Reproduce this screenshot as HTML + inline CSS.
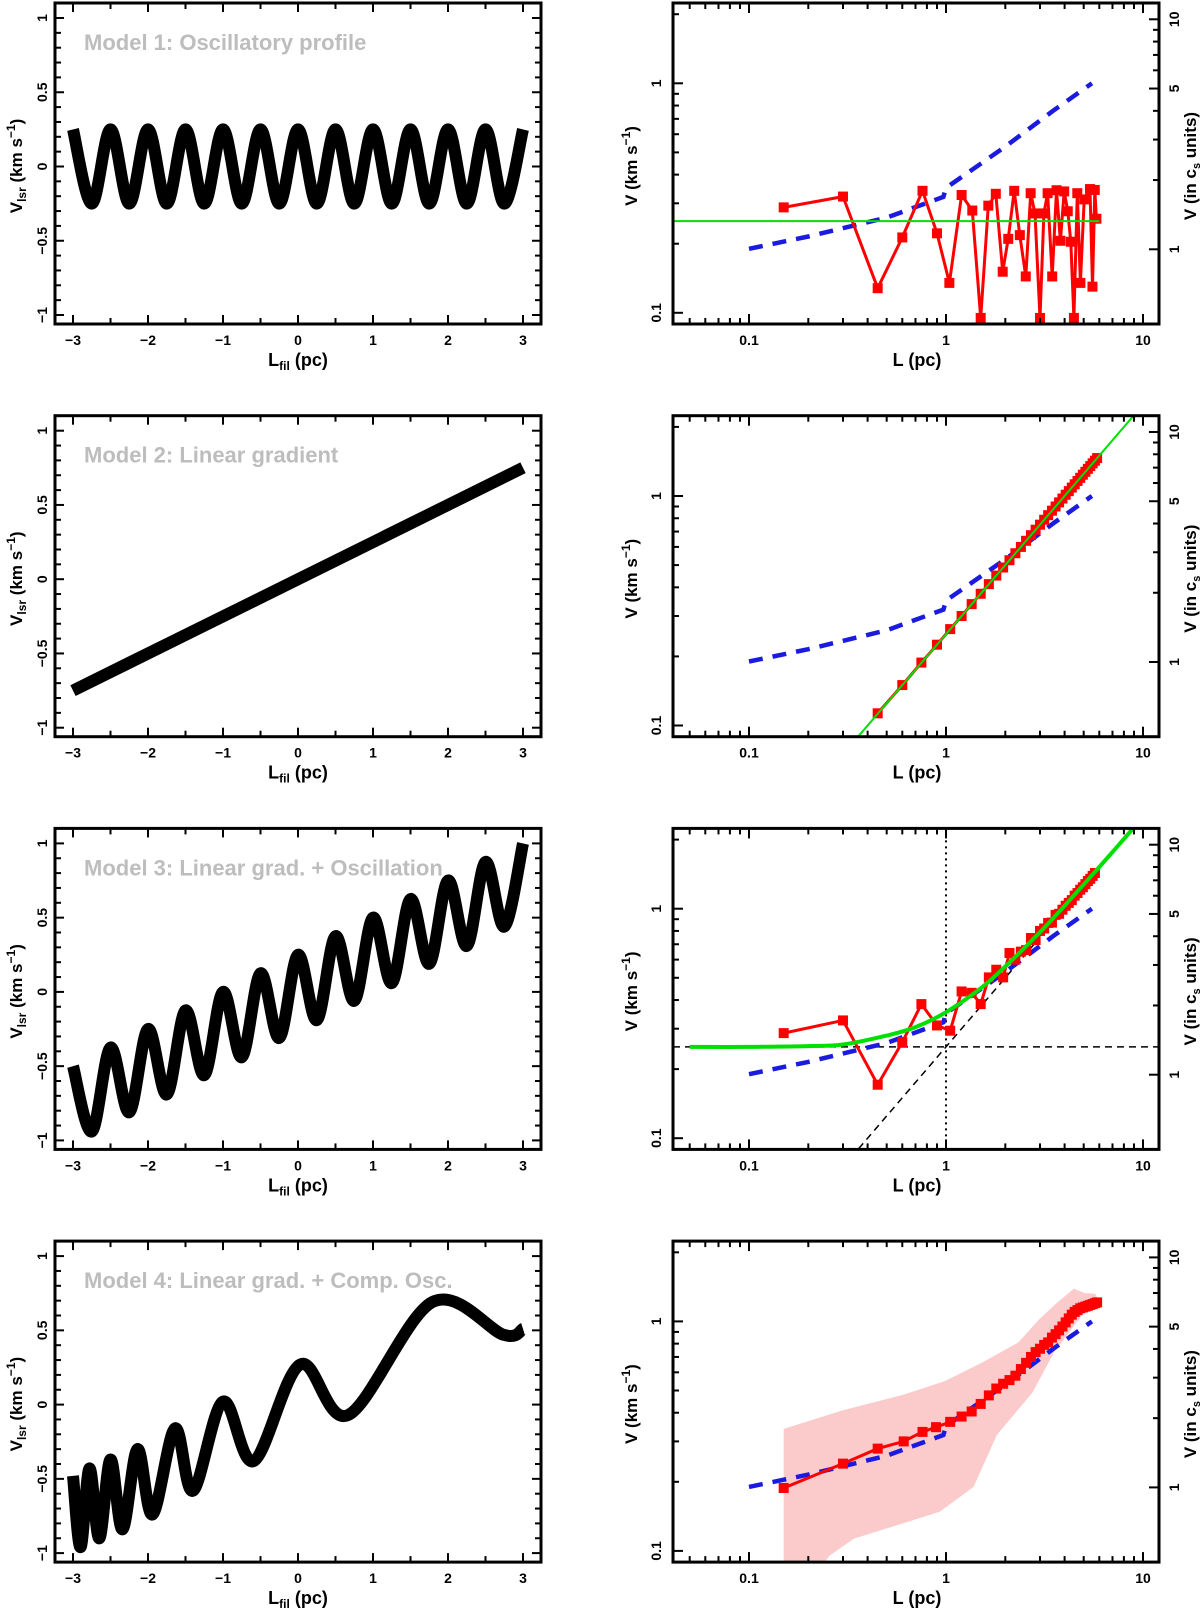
<!DOCTYPE html>
<html><head><meta charset="utf-8"><style>
html,body{margin:0;padding:0;background:#fff;}
svg{display:block;font-family:"Liberation Sans",Arial,sans-serif;}
</style></head><body>
<svg id="fig" width="1200" height="1608" viewBox="0 0 1200 1608" xmlns="http://www.w3.org/2000/svg"></svg>
<script>
// ---------- DATA ----------
const m1X = [-3,-2.75,-2.5,-2.25,-2,-1.75,-1.5,-1.25,-1,-0.75,-0.5,-0.25,0,0.25,0.5,0.75,1,1.25,1.5,1.75,2,2.25,2.5,2.75,3];
const m1V = [0.25,-0.25,0.25,-0.25,0.25,-0.25,0.25,-0.25,0.25,-0.25,0.25,-0.25,0.25,-0.25,0.25,-0.25,0.25,-0.25,0.25,-0.25,0.25,-0.25,0.25,-0.25,0.25];
const m2X = [-3,3];
const m2V = [-0.75,0.75];
const m3X = [-3,-2.75,-2.5,-2.25,-2,-1.75,-1.5,-1.25,-1,-0.75,-0.5,-0.25,0,0.25,0.5,0.75,1,1.25,1.5,1.75,2,2.25,2.5,2.75,3];
const m3V = [-0.5,-0.94,-0.375,-0.81,-0.25,-0.69,-0.125,-0.56,0.0,-0.44,0.125,-0.31,0.25,-0.19,0.375,-0.06,0.5,0.06,0.625,0.19,0.75,0.31,0.875,0.44,1.0];
const m4X = [-3.0,-2.9,-2.78,-2.65,-2.5,-2.34,-2.14,-1.94,-1.64,-1.40,-1.0,-0.59,0.03,0.67,1.79,2.74,3.0];
const m4V = [-0.48,-0.96,-0.43,-0.90,-0.37,-0.84,-0.30,-0.74,-0.16,-0.58,0.02,-0.38,0.27,-0.07,0.69,0.47,0.51];

const r1L = [0.15,0.30,0.45,0.60,0.76,0.90,1.04,1.20,1.36,1.50,1.64,1.79,1.94,2.07,2.22,2.37,2.54,2.69,2.83,3.00,3.14,3.28,3.46,3.64,3.81,3.98,4.15,4.30,4.46,4.64,4.81,5.03,5.38,5.54,5.69,5.80];
const r1V = [0.288,0.321,0.128,0.213,0.340,0.222,0.135,0.326,0.279,0.095,0.293,0.330,0.151,0.210,0.340,0.218,0.144,0.332,0.271,0.095,0.271,0.332,0.144,0.342,0.206,0.338,0.277,0.204,0.095,0.332,0.135,0.312,0.346,0.130,0.343,0.257];
const r1Flat = [0.251,0.251];
const r1FlatL = [0.041,6.0];

const r2L = [0.45,0.60,0.75,0.90,1.05,1.20,1.35,1.50,1.65,1.80,1.95,2.10,2.25,2.40,2.55,2.70,2.85,3.00,3.15,3.30,3.45,3.60,3.75,3.90,4.05,4.20,4.35,4.50,4.65,4.80,4.95,5.10,5.25,5.40,5.55,5.70,5.85];
const r2V = [0.113,0.150,0.188,0.225,0.263,0.300,0.338,0.375,0.413,0.450,0.488,0.525,0.563,0.600,0.638,0.675,0.713,0.750,0.788,0.825,0.863,0.900,0.938,0.975,1.013,1.050,1.088,1.125,1.163,1.200,1.238,1.275,1.313,1.350,1.388,1.425,1.463];
const r2FitL = [0.3,10];
const r2FitV = [0.075,2.5];

const r3L = [0.15,0.30,0.45,0.60,0.75,0.90,1.05,1.20,1.35,1.50,1.65,1.80,1.95,2.10,2.25,2.40,2.55,2.70,2.85,3.00,3.15,3.30,3.45,3.60,3.75,3.90,4.05,4.20,4.35,4.50,4.65,4.80,4.95,5.10,5.25,5.40,5.55,5.70];
const r3V = [0.287,0.326,0.171,0.262,0.384,0.310,0.294,0.436,0.430,0.384,0.502,0.542,0.502,0.641,0.600,0.650,0.660,0.745,0.730,0.800,0.820,0.867,0.870,0.940,0.950,0.990,1.030,1.060,1.090,1.140,1.170,1.210,1.240,1.280,1.320,1.350,1.390,1.430];
const r3FitL = [0.05,0.1,0.2,0.3,0.5,0.7,1,1.5,2,3,4,6,9];
const r3FitV = [0.25,0.25,0.252,0.256,0.28,0.305,0.354,0.45,0.56,0.79,1.03,1.52,2.26];

const r4L = [0.15,0.30,0.45,0.61,0.76,0.89,1.05,1.20,1.35,1.50,1.65,1.80,1.95,2.10,2.25,2.40,2.55,2.70,2.85,3.00,3.15,3.30,3.45,3.60,3.75,3.90,4.05,4.20,4.35,4.50,4.65,4.80,4.95,5.10,5.25,5.40,5.55,5.70,5.85];
const r4V = [0.188,0.240,0.279,0.300,0.330,0.346,0.365,0.385,0.405,0.437,0.476,0.510,0.535,0.555,0.580,0.620,0.660,0.700,0.735,0.760,0.790,0.810,0.850,0.880,0.914,0.950,0.990,1.030,1.070,1.100,1.120,1.140,1.150,1.160,1.170,1.180,1.190,1.200,1.210];
const r4BandL = [0.15,0.30,0.61,0.99,1.54,2.33,3.0,3.68,4.46,5.04,5.72,5.9,5.9,5.04,3.54,2.75,1.81,1.38,0.93,0.59,0.34,0.255,0.20,0.15];
const r4BandV = [0.34,0.41,0.48,0.55,0.665,0.81,1.03,1.21,1.39,1.33,1.32,1.25,1.21,1.10,0.735,0.49,0.32,0.19,0.148,0.131,0.113,0.095,0.07,0.07];

const blueL = [0.1,0.2,0.5,0.97,1.0,2.0,3.5,5.5];
const blueV = [0.19,0.215,0.26,0.32,0.35,0.53,0.76,1.0];

const xTickLabelsLeft = ["−3","−2","−1","0","1","2","3"];
const yTickLabelsLeft = ["−1","−0.5","0","0.5","1"];
const logXLabels = ["0.1","1","10"];
const logYLabels = ["0.1","1"];
const csLabels = ["1","5","10"];
const models = ["Model 1: Oscillatory profile","Model 2: Linear gradient","Model 3: Linear grad. + Oscillation","Model 4: Linear grad. + Comp. Osc."];

// ---------- GEOMETRY ----------
const NS="http://www.w3.org/2000/svg";
const svg=document.getElementById('fig');
const ROW=412.7, BOXH=321;
const LX0=55, LX1=541, RX0=673, RX1=1159;
function mk(tag,attrs,parent){const e=document.createElementNS(NS,tag);for(const k in attrs)e.setAttribute(k,attrs[k]);(parent||svg).appendChild(e);return e;}
function lx(v){return 298+75*v;}
function ly(top,v){return top+163.5-148.5*v;}
function rx(L){return 946+197*Math.log10(L);}
function ry(top,V){return top+80.3-229.5*Math.log10(V);}
function cry(top,c){return top+246.3-230*Math.log10(c);}
function crPath(pts){let d="M"+pts[0][0].toFixed(1)+","+pts[0][1].toFixed(1);
 for(let i=0;i<pts.length-1;i++){const p0=pts[Math.max(0,i-1)],p1=pts[i],p2=pts[i+1],p3=pts[Math.min(pts.length-1,i+2)];
 const c1=[p1[0]+(p2[0]-p0[0])/6,p1[1]+(p2[1]-p0[1])/6],c2=[p2[0]-(p3[0]-p1[0])/6,p2[1]-(p3[1]-p1[1])/6];
 d+=" C"+c1[0].toFixed(1)+","+c1[1].toFixed(1)+" "+c2[0].toFixed(1)+","+c2[1].toFixed(1)+" "+p2[0].toFixed(1)+","+p2[1].toFixed(1);}
 return d;}
function txt(x,y,s,size,attrs,parent){const t=mk('text',Object.assign({x:x,y:y,'font-size':size,'font-weight':'bold','text-anchor':'middle'},attrs||{}),parent);t.textContent=s;return t;}

const leftData=[[m1X,m1V],[m2X,m2V],[m3X,m3V],[m4X,m4V]];

for(let r=0;r<4;r++){
 const top=3+ROW*r, bot=top+BOXH;
 const gL=mk('g',{});
 
 
 const tl=txt(84,top+47,models[r],22,{'text-anchor':'start',fill:'#bdbdbd'},gL);
 
 
 const [X,V]=leftData[r];
 const pts=X.map((x,i)=>[lx(x),ly(top,V[i])]);
 const curve=mk('path',{d:crPath(pts),fill:'none',stroke:'#000','stroke-width':12,'stroke-linejoin':'round'},gL);
 
 
 for(let k=-6;k<=6;k++){const x=lx(k/2),len=(k%2===0)?9:6;
  mk('line',{x1:x,y1:bot,x2:x,y2:bot-len,stroke:'#000','stroke-width':2},gL);
  mk('line',{x1:x,y1:top,x2:x,y2:top+len,stroke:'#000','stroke-width':2},gL);}
 for(let k=-10;k<=10;k++){const y=ly(top,k/10),len=(k%5===0)?9:6;
  mk('line',{x1:LX0,y1:y,x2:LX0+len,y2:y,stroke:'#000','stroke-width':2},gL);
  mk('line',{x1:LX1,y1:y,x2:LX1-len,y2:y,stroke:'#000','stroke-width':2},gL);}
 mk('rect',{x:LX0,y:top,width:LX1-LX0,height:BOXH,fill:'none',stroke:'#000','stroke-width':3},gL);
 xTickLabelsLeft.forEach((s,i)=>{const t=txt(lx(i-3),bot+21,s,14,{},gL);
  
  });
 yTickLabelsLeft.forEach((s,i)=>{const y=ly(top,-1+i*0.5);const t=txt(0,0,s,14,{transform:`translate(47,${y}) rotate(-90)`},gL);
  
  });
 const xt=mk('text',{x:298,y:bot+42,'font-size':18,'font-weight':'bold','text-anchor':'middle'},gL);
 xt.innerHTML='L<tspan font-size="12" dy="4">fil</tspan><tspan dy="-4"> (pc)</tspan>';
 
 
 const yt=mk('text',{'font-size':17,'font-weight':'bold','text-anchor':'middle',transform:`translate(22,${top+163}) rotate(-90)`},gL);
 yt.innerHTML='V<tspan font-size="12" dy="4">lsr</tspan><tspan dy="-4"> (km s</tspan><tspan font-size="12" dy="-7">−1</tspan><tspan dy="7">)</tspan>';
 
 

 const gR=mk('g',{});
 
 
 const cr=mk('clipPath',{id:'cr'+r},gR);mk('rect',{x:RX0,y:top,width:RX1-RX0,height:BOXH},cr);
 const pg=mk('g',{'clip-path':`url(#cr${r})`},gR);
 const P=(Ls,Vs)=>Ls.map((L,i)=>rx(L).toFixed(1)+","+ry(top,Vs[i]).toFixed(1)).join(" ");
 if(r===3){const band=mk('polygon',{points:P(r4BandL,r4BandV),fill:'#fbcaca',stroke:'none'},pg);
  
  }
 if(r===2){
  const h=mk('line',{x1:RX0,y1:ry(top,0.25),x2:RX1,y2:ry(top,0.25),stroke:'#000','stroke-width':1.5,'stroke-dasharray':'7,5'},pg);
  
  
  const dg=mk('line',{x1:rx(0.3),y1:ry(top,0.075),x2:rx(3),y2:ry(top,0.75),stroke:'#000','stroke-width':1.5,'stroke-dasharray':'7,5'},pg);
  
  
  const vt=mk('line',{x1:rx(1),y1:top,x2:rx(1),y2:bot,stroke:'#000','stroke-width':2,'stroke-dasharray':'2,4'},pg);
  
  
 }
 const bl=mk('polyline',{points:P(blueL,blueV),fill:'none',stroke:'#1a1ae0','stroke-width':4.5,'stroke-dasharray':'14,10'},pg);
 
 
 let RL,RV;
 if(r===0){RL=r1L;RV=r1V;}else if(r===1){RL=r2L;RV=r2V;}else if(r===2){RL=r3L;RV=r3V;}else{RL=r4L;RV=r4V;}
 const rl=mk('polyline',{points:P(RL,RV),fill:'none',stroke:'#ff0000','stroke-width':3},pg);
 
 
 RL.forEach((L,i)=>{const s=mk('rect',{x:rx(L)-5,y:ry(top,RV[i])-5,width:10,height:10,fill:'#ff0000'},pg);
  
  });
 let gLs=null,gVs=null,gw=2;
 if(r===0){gLs=r1FlatL;gVs=r1Flat;}else if(r===1){gLs=r2FitL;gVs=r2FitV;}else if(r===2){gLs=r3FitL;gVs=r3FitV;gw=4;}
 if(gLs){const gl=mk('path',{d:crPath(gLs.map((L,i)=>[rx(L),ry(top,gVs[i])])),fill:'none',stroke:'#00e000','stroke-width':gw},pg);
  
  }
 for(let d=-2;d<=1;d++)for(let k=1;k<=9;k++){const L=k*Math.pow(10,d),x=rx(L);if(x<RX0+1||x>RX1-1)continue;const len=k===1?10:6;
  mk('line',{x1:x,y1:bot,x2:x,y2:bot-len,stroke:'#000','stroke-width':2},gR);
  mk('line',{x1:x,y1:top,x2:x,y2:top+len,stroke:'#000','stroke-width':2},gR);}
 for(let d=-2;d<=0;d++)for(let k=1;k<=9;k++){const V=k*Math.pow(10,d),y=ry(top,V);if(y>bot-1||y<top+1)continue;const len=k===1?10:6;
  mk('line',{x1:RX0,y1:y,x2:RX0+len,y2:y,stroke:'#000','stroke-width':2},gR);}
 for(let c=1;c<=10;c++){const y=cry(top,c);const len=(c===1||c===5||c===10)?10:6;
  mk('line',{x1:RX1,y1:y,x2:RX1-len,y2:y,stroke:'#000','stroke-width':2},gR);}
 mk('rect',{x:RX0,y:top,width:RX1-RX0,height:BOXH,fill:'none',stroke:'#000','stroke-width':3},gR);
 logXLabels.forEach((s,i)=>{const t=txt(rx(Math.pow(10,i-1)),bot+21,s,14,{},gR);
  
  });
 logYLabels.forEach((s,i)=>{const y=ry(top,Math.pow(10,i-1));const t=txt(0,0,s,14,{transform:`translate(661,${y}) rotate(-90)`},gR);
  
  });
 csLabels.forEach(s=>{const y=cry(top,+s);const t=txt(0,0,s,14,{transform:`translate(1179,${y}) rotate(-90)`},gR);
  
  });
 const rxt=txt(917,bot+42,'L (pc)',18,{},gR);
 
 
 const ryt=mk('text',{'font-size':17,'font-weight':'bold','text-anchor':'middle',transform:`translate(637,${top+163}) rotate(-90)`},gR);
 ryt.innerHTML='V (km s<tspan font-size="12" dy="-7">−1</tspan><tspan dy="7">)</tspan>';
 
 
 const r2t=mk('text',{'font-size':17,'font-weight':'bold','text-anchor':'middle',transform:`translate(1196,${top+163}) rotate(-90)`},gR);
 r2t.innerHTML='V (in c<tspan font-size="11" dy="4">s</tspan><tspan dy="-4"> units)</tspan>';
 
 
}
</script>
</body></html>
